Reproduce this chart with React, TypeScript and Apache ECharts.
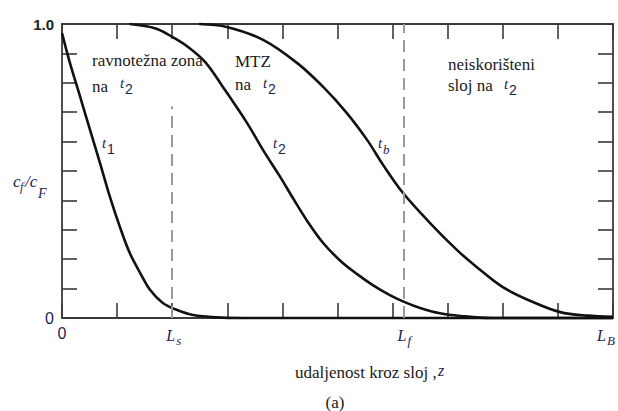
import React, { useEffect, useRef } from "react";
import * as echarts from "echarts";

// ---- data ----
const t1X = [0, 0.145, 0.33, 0.51, 0.69, 0.87, 1.05, 1.23, 1.42, 1.6, 1.83, 2.09, 2.38, 2.8, 3.3, 10];
const t1Y = [0.969, 0.867, 0.752, 0.639, 0.527, 0.412, 0.31, 0.221, 0.153, 0.095, 0.051, 0.027, 0.01, 0.002, 0, 0];

const t2X = [1.23, 1.7, 2.01, 2.3, 2.6, 2.92, 3.36, 3.65, 3.96, 4.19, 4.45, 4.74, 5.05, 5.35, 5.64, 5.95, 6.22, 6.5, 6.86, 7.23, 7.8, 10];
const t2Y = [1.0, 0.985, 0.955, 0.92, 0.87, 0.786, 0.663, 0.571, 0.48, 0.408, 0.33, 0.255, 0.195, 0.15, 0.112, 0.078, 0.054, 0.034, 0.016, 0.007, 0, 0];

const tbX = [2.49, 2.99, 3.65, 4.27, 4.74, 5.17, 5.54, 5.83, 6.19, 6.68, 7.17, 7.53, 8.0, 8.55, 9.04, 9.53, 10];
const tbY = [1.0, 0.99, 0.946, 0.867, 0.786, 0.697, 0.605, 0.52, 0.425, 0.323, 0.231, 0.173, 0.105, 0.054, 0.02, 0.008, 0.004];

const dashX = [2, 6.2]; // positions of L_s and L_f
const dashTop = [0.72, 1.0];
const lMarks = [
  { x: 2, sub: "s" },
  { x: 6.2, sub: "f" },
  { x: 10, sub: "B" },
];
const xEdgeLabels: Record<number, string> = { 0: "{z|0}" };
const yEdgeLabels: Record<number, string> = { 0: "{z|0}", 1: "{o|1.0}" };

const SERIF = "Liberation Serif, Times New Roman, serif";
const SANS = "Liberation Sans, Arial, sans-serif";
const NAVY = "#1c2552";
const INK = "#1a1a1a";
const AXIS = "#3a3a3a";
const W = 618;

const pair = (xs: number[], ys: number[]) => xs.map((x, i) => [x, ys[i]]);

const labelRich = {
  z: { fontFamily: SANS, fontSize: 16, color: NAVY },
  o: { fontFamily: SANS, fontSize: 15, fontWeight: "bold", color: "#222" },
};

const font = (size: number, family = SERIF, style = "normal", weight = "normal") =>
  `${style} ${weight} ${size}px ${family}`;

const txt = (x: number, y: number, text: string, f: string, fill = INK, align = "left") => ({
  type: "text",
  x,
  y,
  silent: true,
  z: 10,
  style: {
    text,
    fill,
    font: f,
    align,
    textAlign: align,
    verticalAlign: "middle",
    textVerticalAlign: "middle",
  },
});

const word = (x: number, y: number, text: string, size = 17, align = "left") =>
  txt(x, y, text, font(size), INK, align);

// italic symbol with subscript: main glyph at (x, y), subscript shifted right/down
const tsub = (x: number, y: number, main: string, sub: string, subFont: string, dx = 5, dy = 6, mainSize = 15) => ({
  type: "group",
  silent: true,
  children: [
    txt(x, y, main, font(mainSize, SERIF, "italic"), NAVY),
    txt(x + dx, y + dy, sub, subFont, NAVY),
  ],
});

const DIGIT = font(14, SANS);

export default function App() {
  const ref = useRef<HTMLDivElement>(null);

  useEffect(() => {
    document.body.style.margin = "0";
    if (!ref.current) return;
    const chart = echarts.init(ref.current, undefined, { renderer: "svg" });

    const axisLine = { show: true, onZero: false, lineStyle: { color: AXIS, width: 1.8 } };
    const axisTick = { show: true, inside: true, length: 15, lineStyle: { color: AXIS, width: 1.6 } };

    const curve = (name: string, data: number[][], extra: any = {}) => ({
      name,
      type: "line",
      data,
      smooth: 0.35,
      symbol: "none",
      clip: false,
      lineStyle: { color: "#111", width: 2.6 },
      z: 3,
      ...extra,
    });

    chart.setOption({
      animation: false,
      grid: { left: 62, right: 5, top: 24, bottom: 93 },
      xAxis: [
        {
          type: "value",
          min: 0,
          max: 10,
          interval: 1,
          position: "bottom",
          axisLine,
          axisTick,
          splitLine: { show: false },
          axisLabel: {
            margin: 7,
            formatter: (v: number) => xEdgeLabels[v] ?? "",
            rich: labelRich,
          },
        },
        {
          type: "value",
          min: 0,
          max: 10,
          interval: 1,
          position: "top",
          axisLine,
          axisTick,
          splitLine: { show: false },
          axisLabel: { show: false },
        },
      ],
      yAxis: [
        {
          type: "value",
          min: 0,
          max: 1,
          interval: 0.1,
          position: "left",
          axisLine,
          axisTick,
          splitLine: { show: false },
          axisLabel: {
            margin: 8,
            formatter: (v: number) => yEdgeLabels[Math.round(v * 10) / 10] ?? "",
            rich: labelRich,
          },
        },
        {
          type: "value",
          min: 0,
          max: 1,
          interval: 0.1,
          position: "right",
          axisLine,
          axisTick,
          splitLine: { show: false },
          axisLabel: { show: false },
        },
      ],
      series: [
        curve("t1", pair(t1X, t1Y), {
          markLine: {
            silent: true,
            symbol: ["none", "none"],
            lineStyle: { type: [12, 7], color: "#9a9a9a", width: 2 },
            label: { show: false },
            data: dashX.map((x, i) => [{ coord: [x, 0] }, { coord: [x, dashTop[i]] }]),
          },
        }),
        curve("t2", pair(t2X, t2Y)),
        curve("tb", pair(tbX, tbY)),
      ],
    });

    const baseY = chart.convertToPixel({ yAxisIndex: 0 }, 0) as number;
    const lLabels = lMarks.map((m) => {
      const px = chart.convertToPixel({ xAxisIndex: 0 }, m.x) as number;
      const lx = Math.min(px - 6, W - 21);
      return tsub(lx, baseY + 17, "L", m.sub, font(13, SERIF, "italic"), 10, 5, 16);
    });

    chart.setOption({
      graphic: [
        ...lLabels,
        word(92, 60, "ravnotežna zona"),
        word(92, 86, "na"),
        tsub(120, 82.5, "t", "2", DIGIT),
        word(235, 61, "MTZ"),
        word(235, 84, "na"),
        tsub(263, 82.5, "t", "2", DIGIT),
        word(448, 64, "neiskorišteni"),
        word(448, 85, "sloj na"),
        tsub(504, 83.5, "t", "2", DIGIT),
        tsub(102, 142.5, "t", "1", DIGIT),
        tsub(273, 143, "t", "2", DIGIT),
        tsub(378, 143, "t", "b", font(13, SERIF, "italic"), 5, 6),
        txt(13, 181.5, "c", font(17, SERIF, "italic"), NAVY),
        txt(20, 187, "f", font(12, SERIF, "italic"), NAVY),
        txt(25, 181.5, "/c", font(17, SERIF, "italic"), NAVY),
        txt(38, 193, "F", font(14, SERIF, "italic"), NAVY),
        word(295, 372.5, "udaljenost kroz sloj ,"),
        txt(438, 370, "z", font(16, SERIF, "italic"), NAVY),
        word(335, 402, "(a)", 17, "center"),
      ],
    });

    return () => chart.dispose();
  }, []);

  return <div ref={ref} style={{ width: 618, height: 411 }} />;
}
